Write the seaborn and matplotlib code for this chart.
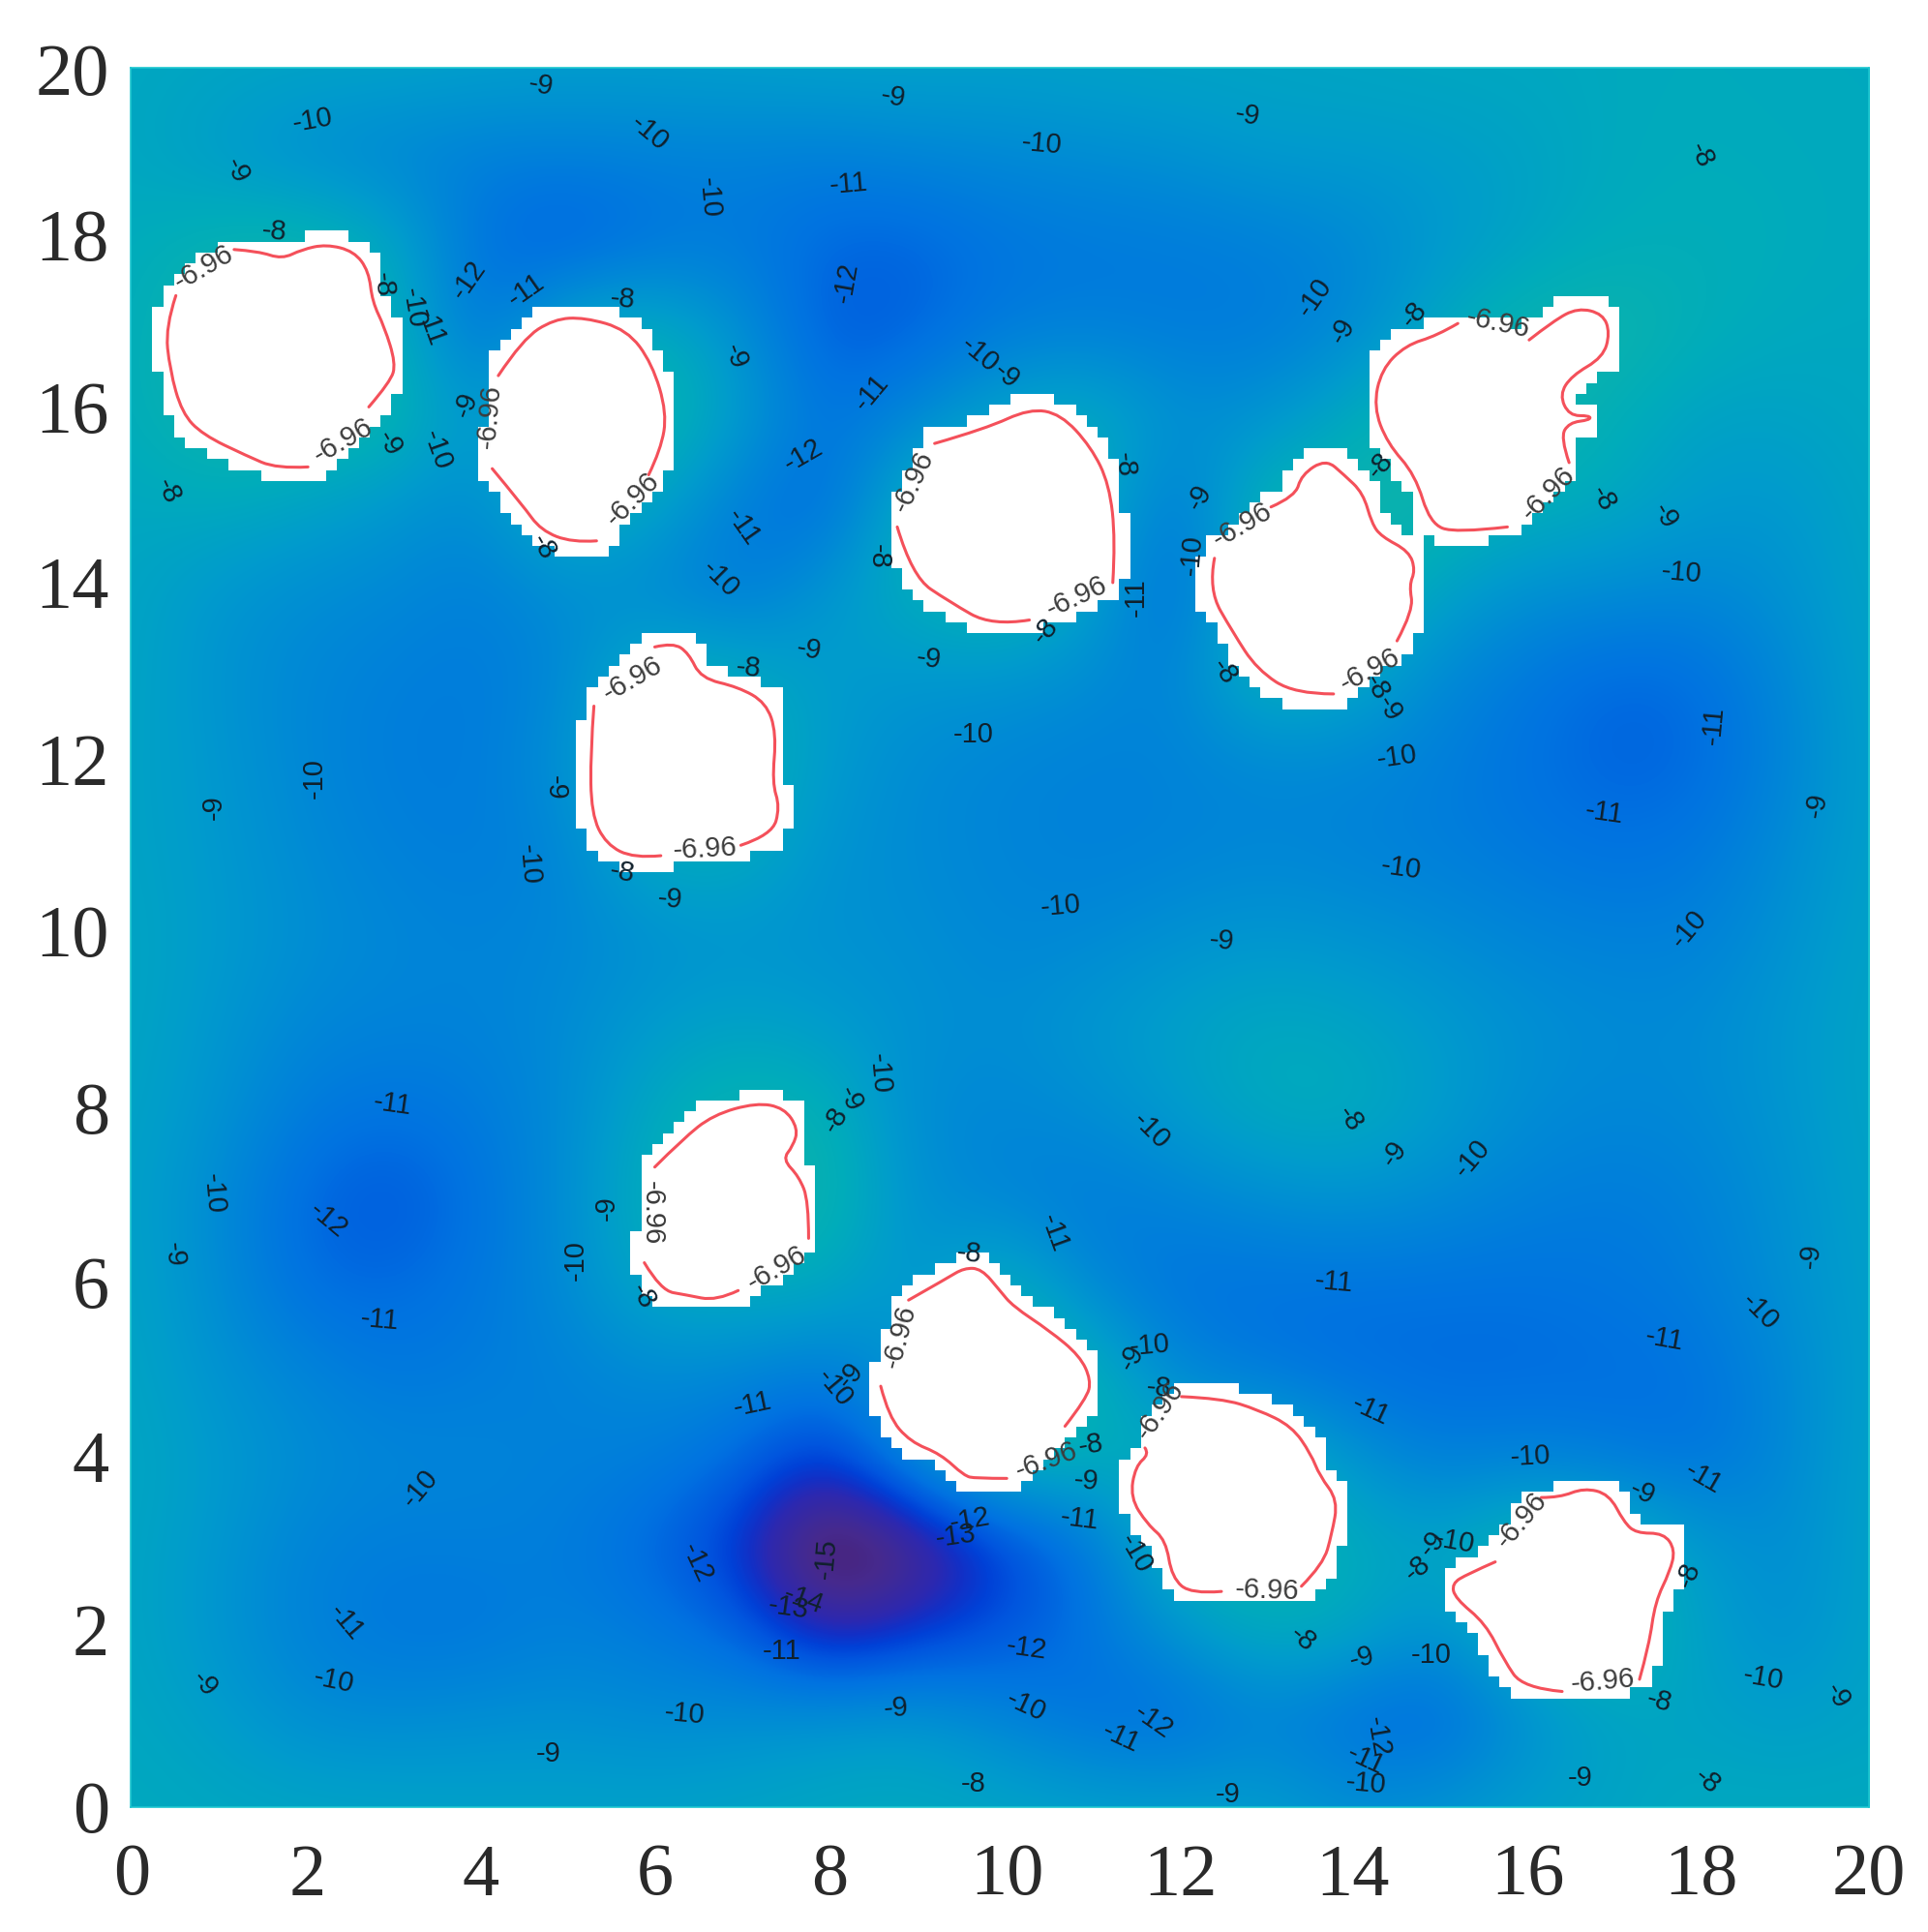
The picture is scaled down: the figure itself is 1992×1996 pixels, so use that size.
import numpy as np
import pandas as pd
import matplotlib
matplotlib.use("Agg")
import matplotlib.pyplot as plt
import seaborn as sns
from matplotlib.colors import LinearSegmentedColormap, ListedColormap
from matplotlib.patches import PathPatch
from matplotlib.path import Path
from matplotlib.transforms import ScaledTranslation

# potential on a 1-unit grid, rows run y=20 down to y=0
field_rows = [
    [-8.3,-8.4,-8.5,-8.5,-8.7,-8.8,-8.8,-8.7,-8.6,-8.6,-8.7,-8.6,-8.5,-8.5,-8.4,-8.3,-8.3,-8.2,-8.1,-8.2,-8.2],
    [-8.3,-9.0,-9.8,-10.2,-10.4,-10.4,-10.3,-10.3,-10.4,-10.1,-9.9,-9.7,-9.5,-9.0,-9.0,-8.9,-8.6,-8.2,-8.0,-8.1,-8.2],
    [-8.1,-7.5,-7.2,-8.2,-11.0,-11.9,-11.0,-10.6,-11.4,-11.5,-10.9,-10.7,-10.6,-10.4,-10.0,-9.2,-8.6,-8.0,-7.9,-8.0,-8.2],
    [-8.0,-7.0,-7.0,-7.6,-11.2,-8.2,-7.8,-9.5,-11.8,-11.6,-10.6,-10.4,-10.6,-10.6,-10.0,-8.4,-7.3,-7.0,-7.8,-8.2,-8.3],
    [-8.0,-7.0,-7.0,-7.2,-9.5,-7.0,-7.0,-8.8,-11.0,-10.0,-8.5,-8.0,-9.5,-9.5,-8.2,-7.0,-7.0,-7.8,-8.6,-8.6,-8.3],
    [-8.3,-8.1,-8.5,-9.2,-9.8,-7.5,-8.4,-10.5,-11.5,-7.5,-7.0,-7.5,-11.0,-7.5,-7.2,-7.2,-7.8,-8.2,-9.0,-9.2,-8.4],
    [-8.4,-9.2,-9.7,-9.9,-10.4,-9.6,-10.0,-10.8,-9.2,-8.0,-7.0,-8.5,-11.5,-7.2,-7.0,-8.5,-9.5,-9.7,-10.0,-9.5,-8.5],
    [-8.4,-9.4,-10.0,-10.4,-10.6,-10.0,-7.6,-8.0,-9.0,-9.2,-9.3,-9.7,-10.3,-7.6,-8.2,-9.8,-10.7,-11.4,-11.2,-10.0,-8.6],
    [-8.5,-9.2,-10.0,-10.5,-10.6,-9.5,-7.5,-7.5,-9.0,-9.8,-10.1,-10.3,-10.2,-10.0,-10.0,-10.4,-11.0,-11.5,-11.4,-10.2,-8.7],
    [-8.5,-9.1,-9.8,-10.3,-10.5,-10.1,-8.0,-8.0,-9.4,-9.8,-10.1,-10.3,-10.2,-10.0,-10.2,-10.4,-10.7,-11.0,-10.8,-9.8,-8.7],
    [-8.4,-9.0,-9.6,-10.0,-10.2,-10.0,-9.6,-9.4,-9.5,-9.6,-10.0,-9.9,-9.5,-9.2,-9.4,-9.7,-10.1,-10.3,-10.3,-9.5,-8.6],
    [-8.4,-9.2,-10.0,-10.2,-10.2,-9.8,-9.0,-8.6,-9.0,-9.5,-9.7,-9.2,-8.7,-8.2,-8.4,-9.0,-9.5,-9.8,-9.8,-9.2,-8.5],
    [-8.5,-9.4,-10.6,-11.0,-10.6,-9.8,-8.2,-7.3,-7.6,-9.8,-10.0,-9.7,-9.0,-8.1,-8.0,-8.8,-9.7,-10.0,-9.9,-9.3,-8.5],
    [-8.6,-9.8,-11.4,-12.0,-11.0,-9.7,-7.8,-7.0,-7.2,-9.5,-10.2,-10.6,-10.2,-9.7,-9.4,-9.8,-10.3,-10.6,-10.3,-9.5,-8.6],
    [-8.5,-9.7,-11.2,-11.3,-10.8,-9.8,-8.2,-8.0,-8.2,-9.5,-7.5,-10.0,-11.0,-11.0,-11.0,-11.0,-11.0,-10.8,-10.5,-9.6,-8.7],
    [-8.4,-9.4,-10.1,-10.8,-10.5,-10.3,-9.8,-10.0,-10.6,-9.2,-7.0,-7.4,-10.0,-10.8,-11.2,-11.3,-11.3,-11.2,-11.0,-10.0,-8.7],
    [-8.3,-9.0,-9.7,-10.0,-10.1,-10.3,-10.4,-11.2,-13.0,-9.5,-7.2,-8.0,-8.0,-7.2,-9.2,-10.5,-10.2,-10.6,-11.0,-10.0,-8.6],
    [-8.4,-9.2,-10.2,-10.5,-10.4,-10.5,-11.4,-13.0,-16.4,-15.2,-12.8,-11.0,-7.5,-7.2,-8.0,-8.5,-7.2,-7.2,-9.0,-9.8,-8.6],
    [-8.4,-9.3,-10.3,-10.8,-10.8,-10.3,-10.6,-11.4,-13.8,-12.8,-12.0,-11.0,-9.4,-8.0,-8.2,-9.7,-7.5,-7.2,-8.6,-9.7,-8.6],
    [-8.3,-8.8,-9.7,-9.8,-9.6,-9.5,-9.8,-9.6,-9.2,-9.0,-10.0,-11.0,-11.4,-10.3,-11.2,-11.6,-9.8,-8.6,-8.5,-8.9,-8.5],
    [-8.2,-8.3,-8.4,-8.5,-8.6,-8.6,-8.6,-8.5,-8.3,-8.2,-8.4,-8.6,-8.7,-8.7,-9.5,-9.3,-8.7,-8.5,-8.2,-8.2,-8.2],
]

gap = (np.nan, np.nan)

# -6.96 contour of each hole, gaps are where the inline label sits
hole_1 = [(1.19,17.91),(1.47,17.89),(1.74,17.80),(1.97,17.91),(2.25,17.97),(2.57,17.89),(2.74,17.66),(2.78,17.31),(2.92,17.02),(3.05,16.60),(2.99,16.39),(2.74,16.10),gap,
          (2.04,15.41),(1.68,15.39),(1.33,15.54),(0.83,15.78),(0.59,16.03),(0.45,16.53),(0.40,17.02),(0.52,17.38)]
hole_2 = [(4.23,16.46),(4.51,16.88),(4.87,17.11),(5.22,17.13),(5.71,16.99),(6.00,16.60),(6.17,16.03),(6.10,15.61),(5.96,15.32),gap,
          (5.36,14.56),(5.08,14.54),(4.72,14.68),(4.51,14.97),(4.16,15.39)]
hole_3 = [(9.25,15.68),(9.84,15.85),(10.34,16.08),(10.70,16.02),(11.05,15.64),(11.26,15.21),(11.33,14.57),(11.30,14.08),gap,
          (10.34,13.65),(9.91,13.58),(9.42,13.86),(8.99,14.15),(8.82,14.72)]
hole_4 = [(13.12,14.95),(13.40,15.07),(13.47,15.32),(13.75,15.50),(13.96,15.32),(14.18,15.11),(14.28,14.76),(14.39,14.61),(14.71,14.44),(14.78,14.22),(14.71,14.05),(14.76,13.76),(14.57,13.41),gap,
          (13.84,12.80),(13.39,12.80),(12.96,13.08),(12.68,13.51),(12.40,14.00),(12.47,14.36)]
hole_5 = [(16.09,16.87),(16.37,17.09),(16.65,17.24),(16.94,17.17),(17.02,16.95),(16.94,16.67),(16.58,16.46),(16.44,16.24),(16.55,16.00),(16.79,16.00),(16.79,15.95),(16.55,15.92),(16.45,15.75),(16.55,15.46),gap,
          (15.84,14.72),(15.24,14.65),(14.95,14.76),(14.78,15.32),(14.46,15.68),(14.30,16.10),(14.39,16.53),(14.67,16.81),(15.03,16.92),(15.27,17.06)]
hole_6 = [(6.03,13.34),(6.24,13.39),(6.42,13.27),(6.56,12.98),(6.99,12.88),(7.31,12.70),(7.43,12.35),(7.38,11.78),(7.47,11.50),(7.38,11.18),(7.02,11.06),gap,
          (6.10,10.94),(5.79,10.91),(5.47,11.07),(5.30,11.42),(5.29,12.13),(5.33,12.66)]
hole_7 = [(6.03,7.36),(6.35,7.68),(6.70,7.96),(7.20,8.10),(7.52,8.04),(7.68,7.80),(7.62,7.60),(7.50,7.45),(7.69,7.25),(7.80,6.97),(7.80,6.54),gap,
          (6.99,5.94),(6.74,5.82),(6.39,5.89),(6.10,5.94),(5.91,6.26)]
hole_8 = [(8.95,5.83),(9.39,6.08),(9.59,6.20),(9.79,6.19),(10.00,5.94),(10.15,5.76),(10.57,5.48),(10.92,5.19),(11.05,4.91),(11.00,4.70),(10.75,4.38),gap,
          (10.08,3.78),(9.72,3.78),(9.59,3.81),(9.32,4.06),(8.97,4.20),(8.72,4.49),(8.63,4.84)]
hole_9 = [(12.09,4.72),(12.55,4.70),(12.97,4.57),(13.36,4.38),(13.58,4.06),(13.68,3.81),(13.89,3.53),(13.82,3.14),(13.72,2.79),(13.47,2.54),gap,
          (12.55,2.48),(12.20,2.45),(11.98,2.64),(11.91,3.07),(11.70,3.25),(11.50,3.56),(11.56,3.92),(11.72,4.06),(11.67,4.13)]
hole_10 = [(16.23,3.56),(16.44,3.56),(16.72,3.67),(17.01,3.60),(17.18,3.28),(17.32,3.15),(17.64,3.15),(17.77,2.96),(17.71,2.71),(17.54,2.36),(17.47,1.86),(17.36,1.47),gap,
           (16.47,1.33),(16.02,1.37),(15.80,1.69),(15.59,2.11),(15.24,2.40),(15.20,2.57),(15.38,2.68),(15.70,2.82)]
holes = [hole_1, hole_2, hole_3, hole_4, hole_5, hole_6, hole_7, hole_8, hole_9, hole_10]

# inline contour labels: text, x, y, rotation
labels = [
    ("-9",4.72,19.80,-10),("-10",2.09,19.39,10),("-9",1.22,18.82,-65),("-10",5.97,19.25,-40),("-10",6.65,18.51,-85),
    ("-11",8.26,18.66,5),("-9",8.77,19.66,-10),("-10",10.48,19.12,-5),("-9",12.85,19.45,-10),("-8",18.07,19.00,-65),
    ("-8",1.65,18.12,-5),("-8",2.91,17.51,-85),("-10",3.25,17.24,-80),("-11",3.45,17.02,-70),("-12",3.89,17.56,55),
    ("-11",4.55,17.44,35),("-8",5.66,17.34,-5),("-12",8.23,17.53,80),("-9",6.96,16.68,-70),("-11",8.52,16.26,50),
    ("-10",9.77,16.70,-40),("-9",10.07,16.46,-40),("-10",13.62,17.36,55),("-9",13.94,16.97,60),("-8",14.77,17.16,50),
    ("-6.96",15.73,17.06,-12),("-6.96",0.84,17.70,30),("-6.96",2.44,15.71,30),("-9",3.86,16.12,70),("-6.96",4.13,15.99,85),
    ("-9",2.98,15.68,-60),("-10",3.52,15.60,-70),("-8",0.43,15.13,-65),("-6.96",5.77,15.04,45),("-8",4.75,14.49,-60),
    ("-12",7.74,15.54,30),("-11",7.05,14.72,-55),("-10",6.78,14.12,-45),("-6.96",9.00,15.24,65),("-8",11.43,15.44,-85),
    ("-8",8.61,14.38,-90),("-6.96",10.88,13.92,25),("-8",10.52,13.52,50),("-11",11.57,13.91,90),("-9",12.30,15.06,60),
    ("-10",12.21,14.40,85),("-6.96",12.79,14.74,30),("-8",14.38,15.43,50),("-6.96",16.31,15.10,45),("-8",16.94,15.04,-60),
    ("-9",17.65,14.84,-60),("-10",17.84,14.19,-5),("-9",7.80,13.31,-10),("-9",9.18,13.20,-8),("-6.96",5.77,12.97,30),
    ("-8",7.11,13.10,-5),("-8",12.58,13.05,-55),("-6.96",14.26,13.07,28),("-8",14.33,12.87,-60),("-9",14.48,12.63,-60),
    ("-10",9.70,12.33,0),("-10",14.57,12.07,8),("-11",18.21,12.44,85),("-10",2.11,11.83,90),("-9",0.96,11.49,90),
    ("-9",4.89,11.72,-90),("-11",16.95,11.43,-8),("-9",19.40,11.52,80),("-6.96",6.61,11.02,3),("-8",5.66,10.75,-10),
    ("-10",4.58,10.84,-85),("-9",6.21,10.44,-5),("-10",14.62,10.80,-8),("-10",10.70,10.36,5),("-10",17.93,10.10,50),
    ("-9",12.55,9.96,-5),("-10",8.61,8.44,-85),("-11",3.01,8.08,-8),("-9",8.28,8.14,-65),("-8",8.11,7.90,60),
    ("-10",11.74,7.78,-45),("-8",14.03,7.91,-55),("-9",14.54,7.51,55),("-10",15.43,7.46,50),("-10",0.95,7.05,-85),
    ("-12",2.27,6.75,-40),("-9",0.50,6.35,-85),("-9",5.48,6.89,90),("-6.96",6.00,6.83,-90),("-10",5.12,6.29,90),
    ("-11",10.62,6.60,-70),("-6.96",7.43,6.19,30),("-8",5.89,5.87,-60),("-8",9.65,6.36,-5),("-9",19.33,6.34,85),
    ("-11",13.84,6.04,-5),("-10",18.74,5.70,-45),("-11",2.87,5.60,-5),("-11",17.65,5.38,-10),("-6.96",8.85,5.41,75),
    ("-10",11.72,5.31,5),("-9",11.52,5.17,60),("-8",11.83,4.82,-5),("-6.96",11.84,4.56,55),("-10",8.10,4.82,-50),
    ("-9",8.28,4.96,50),("-11",7.16,4.63,12),("-11",14.27,4.56,-25),("-8",11.05,4.16,10),("-6.96",10.54,3.98,20),
    ("-9",10.99,3.75,-5),("-10",16.11,4.03,3),("-11",18.10,3.78,-30),("-9",17.39,3.61,-25),("-10",3.33,3.66,50),
    ("-6.96",16.00,3.30,50),("-11",10.92,3.31,-7),("-12",9.66,3.30,10),("-13",9.49,3.11,8),("-10",11.56,2.91,-60),
    ("-10",15.23,3.05,-10),("-9",14.98,3.03,50),("-8",14.81,2.74,40),("-8",17.93,2.67,70),("-12",6.51,2.81,-65),
    ("-15",8.00,2.86,85),("-14",7.74,2.39,-20),("-13",7.57,2.29,-8),("-6.96",13.08,2.49,-2),("-8",13.48,1.93,-40),
    ("-11",2.48,2.13,-50),("-11",7.49,1.79,0),("-12",10.31,1.82,-8),("-9",14.17,1.72,15),("-10",14.96,1.75,0),
    ("-6.96",16.94,1.45,5),("-9",0.85,1.42,-50),("-10",2.34,1.45,-12),("-10",18.78,1.48,-10),("-9",19.63,1.28,-60),
    ("-8",17.59,1.22,-15),("-10",6.37,1.07,-5),("-9",8.81,1.14,5),("-10",10.30,1.16,-25),("-12",11.76,0.98,-35),
    ("-11",11.39,0.80,-25),("-9",4.81,0.61,0),("-12",14.35,0.81,-80),("-11",14.21,0.54,-25),("-10",14.21,0.27,-5),
    ("-9",16.68,0.33,0),("-8",18.14,0.30,-40),("-8",9.70,0.27,0),("-9",12.62,0.14,0),
]

tick_values = list(range(0, 21, 2))
cell_per_unit = 8
n_cells = 20 * cell_per_unit

cmap_colors = [
    (0.000, "#4b1c64"), (0.115, "#462a8e"), (0.230, "#2c28b0"), (0.287, "#1230c6"),
    (0.345, "#0041d7"), (0.402, "#0055de"), (0.517, "#0073e1"), (0.632, "#0087d7"),
    (0.747, "#009bcd"), (0.862, "#00acbb"), (0.943, "#0ab2ae"), (1.000, "#14b8a8"),
]
cmap = LinearSegmentedColormap.from_list("holes", cmap_colors)

sns.set_theme(style="white")
plt.rcParams["font.family"] = ["Liberation Sans", "DejaVu Sans"]

# white cells of the holes, stair steps come from the coarse solver grid
centres = (np.arange(n_cells) + 0.5) / cell_per_unit
xx, yy = np.meshgrid(centres, centres)
pts = np.column_stack([xx.ravel(), yy.ravel()])
inside = np.zeros(n_cells * n_cells, dtype=bool)
for hole in holes:
    arr = np.array(hole)
    arr = arr[~np.isnan(arr[:, 0])]
    inside |= Path(arr).contains_points(pts)
inside = inside.reshape(n_cells, n_cells)
grown = inside.copy()
for dx, dy in [(1,0),(-1,0),(0,1),(0,-1),(1,1),(1,-1),(-1,1),(-1,-1)]:
    grown |= np.roll(np.roll(inside, dx, axis=1), dy, axis=0)

fig = plt.figure(figsize=(19.92, 19.96), dpi=100)
ax = fig.add_axes([135 / 1992, 129 / 1996, 1796 / 1992, 1797 / 1996])

sns.heatmap(pd.DataFrame(grown.astype(float)), mask=~grown, cmap=ListedColormap(["white"]),
            cbar=False, ax=ax, zorder=1, linewidths=0)

# smooth field under the white cells
field = np.array(field_rows)[::-1]
ax.imshow(field, origin="lower", cmap=cmap, vmin=-15.5, vmax=-6.8, interpolation="bicubic",
          extent=(-cell_per_unit / 2, n_cells + cell_per_unit / 2, -cell_per_unit / 2, n_cells + cell_per_unit / 2),
          aspect="auto", zorder=0)

ax.set_xlim(0, n_cells)
ax.set_ylim(0, n_cells)

# red contour, points used as quadratic control points so the line stays round
for hole in holes:
    arr = np.array(hole) * cell_per_unit
    breaks = np.where(np.isnan(arr[:, 0]))[0]
    for part in np.split(arr, breaks):
        part = part[~np.isnan(part[:, 0])]
        verts = [part[0]]
        codes = [Path.MOVETO]
        for i in range(1, len(part) - 1):
            verts += [part[i], (part[i] + part[i + 1]) / 2 if i < len(part) - 2 else part[i + 1]]
            codes += [Path.CURVE3, Path.CURVE3]
        ax.add_patch(PathPatch(Path(verts, codes), fill=False, edgecolor="#f4505a", lw=2.2, zorder=2, capstyle="round"))

for txt, x, y, rot in labels:
    col = "#3c3c3c" if txt == "-6.96" else "#10202c"
    ax.text(x * cell_per_unit, y * cell_per_unit, txt, rotation=rot, rotation_mode="anchor",
            ha="center", va="center", fontsize=21, color=col, zorder=3)

ax.set_xticks([t * cell_per_unit for t in tick_values])
ax.set_xticklabels(tick_values, rotation=0, family="Liberation Serif", fontsize=55, color="#2a2a2a")
ax.set_yticks([t * cell_per_unit for t in tick_values])
ax.set_yticklabels(tick_values, rotation=0, family="Liberation Serif", fontsize=55, color="#2a2a2a")
ax.tick_params(axis="x", length=0, pad=27)
ax.tick_params(axis="y", length=0, pad=16)

# the labels in the original were placed by hand, so they sit a little off their ticks
x_nudge_pt = [1, 2, 2, 2, 3, 5, 5, 4, 5, 4, 0]
y_nudge_pt = [5.2, 3.3, 3.3, 3.3, 3.3, 0.6, 2.4, 0.6, -0.3, 0.6, 7]
for lab, dx in zip(ax.get_xticklabels(), x_nudge_pt):
    lab.set_transform(lab.get_transform() + ScaledTranslation(dx / 72, 0, fig.dpi_scale_trans))
for lab, dy in zip(ax.get_yticklabels(), y_nudge_pt):
    lab.set_transform(lab.get_transform() + ScaledTranslation(0, -dy / 72, fig.dpi_scale_trans))

for side in ax.spines.values():
    side.set_visible(True)
    side.set_color("#1cc6cf")
    side.set_linewidth(1.2)

fig.savefig("out.png", dpi=100)
